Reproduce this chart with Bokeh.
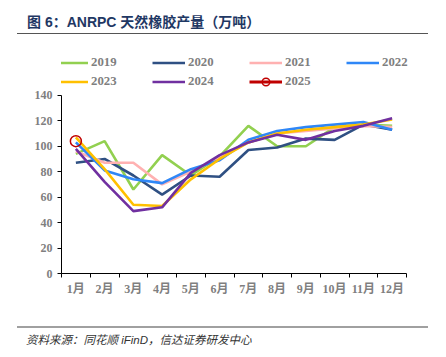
from bokeh.plotting import figure
from bokeh.models import Range1d, FixedTicker, Legend, LegendItem, Div
from bokeh.layouts import column
from bokeh.embed import file_html
from bokeh.resources import INLINE

months = list(range(1, 13))
month_labels = ["1月", "2月", "3月", "4月", "5月", "6月", "7月", "8月", "9月", "10月", "11月", "12月"]

v2019 = [94, 104, 66, 93, 77, 92, 116, 100, 100, 115, 117, 116]
v2020 = [87, 90, 77, 62, 77, 76, 97, 99, 106, 105, 117, 113]
v2021 = [96, 87, 87, 70, 80, 91, 103, 110, 112, 114, 116, 115]
v2022 = [103, 81, 74, 71, 82, 89, 105, 112, 115, 117, 119, 113]
v2023 = [107, 82, 54, 53, 74, 90, 103, 110, 113, 115, 117, 121]
v2024 = [98, 72, 49, 52, 79, 93, 103, 109, 105, 112, 116, 122]
v2025 = [104]

series = [
    ("2019", v2019, "#92d050"),
    ("2020", v2020, "#2f5083"),
    ("2021", v2021, "#ffb1b1"),
    ("2022", v2022, "#2f87f7"),
    ("2023", v2023, "#ffc000"),
    ("2024", v2024, "#7030a0"),
]

y_ticks = [0, 20, 40, 60, 80, 100, 120, 140]

SERIF = "'Liberation Serif', 'Noto Sans CJK SC', serif"

# Frame is a little taller / wider on the right than the axes so the legend
# fits inside it; the axes are bounded to the 0.5-12.5 x 0-140 data box.
X0, X1 = 0.5, 12.5
p = figure(width=446, height=292, output_backend="svg", toolbar_location=None,
           x_range=Range1d(X0, X1 + 6 / 28.75), y_range=Range1d(0, 176),
           min_border_left=61, min_border_right=34, min_border_top=15, min_border_bottom=53)
p.outline_line_color = None
p.xgrid.grid_line_color = None
p.ygrid.grid_line_color = None
p.background_fill_color = "white"
p.border_fill_color = "white"

items = []
for name, vals, col in series:
    r = p.line(months[:len(vals)], vals, line_color=col, line_width=2.6)
    items.append(LegendItem(label=name, renderers=[r]))

r25l = p.line(months[:len(v2025)], v2025, line_color="#c00000", line_width=3)
r25s = p.scatter(months[:len(v2025)], v2025, size=11, marker="circle",
                 line_color="#c00000", fill_color=None, line_width=1.5)
items.append(LegendItem(label="2025", renderers=[r25l, r25s]))

xa = p.xaxis[0]
xa.bounds = (X0, X1)
xa.ticker = FixedTicker(ticks=months, minor_ticks=[m + 0.5 for m in range(0, 13)])
xa.major_label_overrides = {m: lab for m, lab in zip(months, month_labels)}
xa.major_tick_line_color = None
xa.major_tick_out = 4
xa.minor_tick_line_color = "black"
xa.minor_tick_out = 4
xa.minor_tick_in = 0
xa.axis_line_color = "black"
xa.major_label_standoff = 4
xa.major_label_text_font = SERIF
xa.major_label_text_font_style = "bold"
xa.major_label_text_font_size = "12px"
xa.major_label_text_color = "#7f7f7f"

ya = p.yaxis[0]
ya.bounds = (0, 140)
ya.ticker = FixedTicker(ticks=y_ticks, minor_ticks=[])
ya.major_tick_line_color = "black"
ya.major_tick_out = 4
ya.major_tick_in = 0
ya.minor_tick_line_color = None
ya.axis_line_color = "black"
ya.major_label_standoff = 5
ya.major_label_text_font = SERIF
ya.major_label_text_font_style = "bold"
ya.major_label_text_font_size = "12px"
ya.major_label_text_color = "#7f7f7f"

legend = Legend(items=items, location=(-6, 182), orientation="horizontal", ncols=4,
                glyph_width=33, glyph_height=19, label_height=19, label_width=61,
                label_standoff=3, spacing=0, padding=0, margin=0,
                border_line_color=None, background_fill_alpha=0,
                label_text_font=SERIF, label_text_font_style="bold",
                label_text_font_size="12.8px", label_text_color="#7f7f7f")
p.add_layout(legend, "center")

title = Div(text=(
    '<div style="padding-left:27px;padding-top:14px;line-height:16px;white-space:nowrap;'
    'font-family:&quot;Liberation Sans&quot;, &quot;Noto Sans CJK SC&quot;, sans-serif;'
    'font-weight:bold;font-size:14px;color:#1f3864;">'
    '图 6：ANRPC 天然橡胶产量（万吨）</div>'), width=446, height=33, margin=0)

rule_top = Div(text="", width=411, height=1, margin=(0, 0, 0, 17),
               styles={"background-color": "#555555"})
rule_bottom = Div(text="", width=411, height=2, margin=(0, 0, 0, 17),
                  styles={"background-color": "#a0a0a0"})

source = Div(text=(
    '<div style="padding-left:26px;padding-top:5px;line-height:14px;white-space:nowrap;'
    'font-family:&quot;Liberation Sans&quot;, &quot;Noto Sans CJK SC&quot;, sans-serif;'
    'font-style:italic;font-size:11.5px;color:#333;">'
    '资料来源：同花顺 iFinD，信达证券研发中心</div>'), width=446, height=29, margin=0)

layout = column(title, rule_top, p, rule_bottom, source, spacing=0)

open("out.html", "w").write(file_html(layout, INLINE))
